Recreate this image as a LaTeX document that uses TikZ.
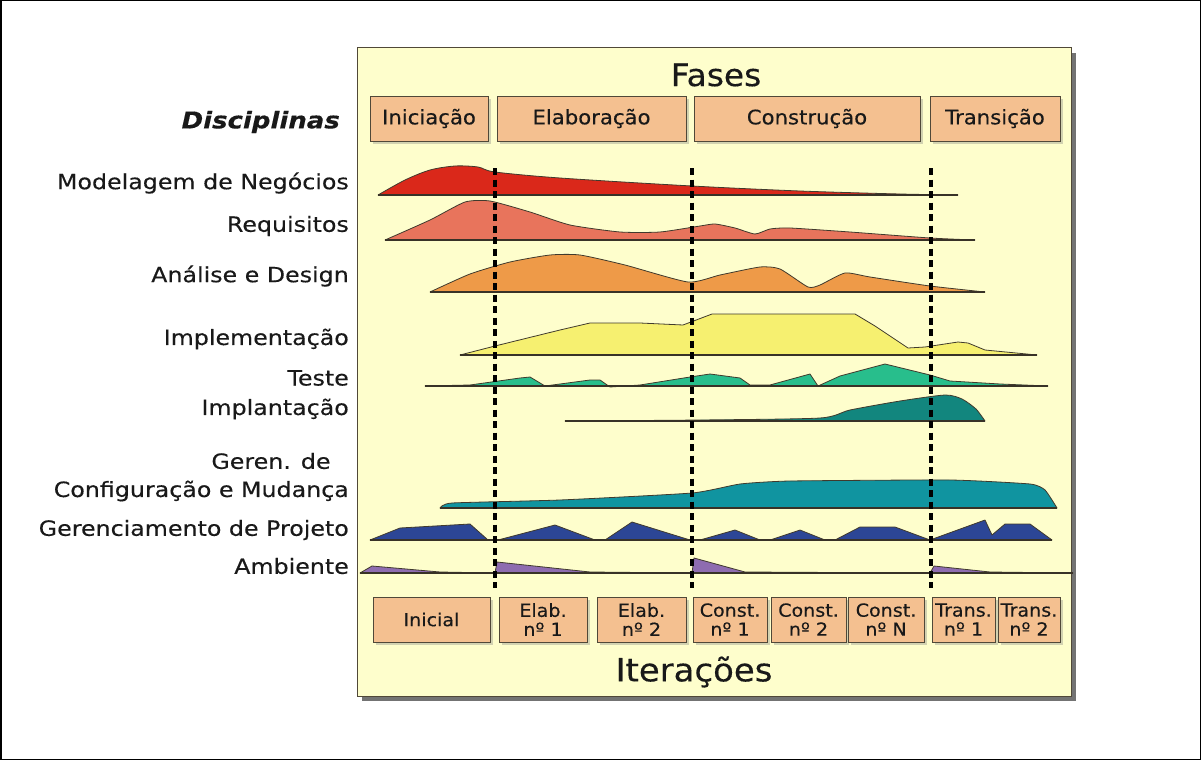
\documentclass[tikz,border=0pt]{standalone}
\usepackage{fontspec}
\setmainfont{DejaVu Sans}
\newfontfamily\labfont[FakeStretch=1.13,FakeBold=0.3]{DejaVu Sans}
\newfontfamily\boxfont[FakeStretch=1.06,FakeBold=0.3]{DejaVu Sans}
\usetikzlibrary{shadows}

\definecolor{panelfill}{RGB}{254,254,204}
\definecolor{boxfill}{RGB}{244,192,144}
\definecolor{edge}{RGB}{80,72,56}
\definecolor{inkc}{RGB}{25,25,25}
\definecolor{cBiz}{RGB}{218,40,26}
\definecolor{cReq}{RGB}{232,116,92}
\definecolor{cAna}{RGB}{238,154,72}
\definecolor{cImp}{RGB}{246,240,112}
\definecolor{cTst}{RGB}{40,190,140}
\definecolor{cDep}{RGB}{18,134,126}
\definecolor{cCfg}{RGB}{16,148,160}
\definecolor{cPrj}{RGB}{44,70,150}
\definecolor{cEnv}{RGB}{142,108,176}

\tikzset{
  boxshadow/.style={drop shadow={opacity=0.35,shadow xshift=3pt,shadow yshift=-3pt}},
  phasebox/.style={draw=edge, line width=1pt, fill=boxfill, boxshadow,
    minimum height=45pt, inner sep=0pt, font=\boxfont\fontsize{20}{22}\selectfont, text=inkc},
  iterbox/.style={draw=edge, line width=1pt, fill=boxfill, boxshadow,
    minimum height=45pt, inner sep=0pt, align=center,
    font=\boxfont\fontsize{18}{19}\selectfont, text=inkc},
  disc/.style={anchor=east, inner sep=0pt, text=inkc, font=\labfont\fontsize{21}{23}\selectfont},
  hump/.style={draw=edge!80!black, line width=0.8pt, line join=round},
  baseln/.style={draw=edge!70!black, line width=1.2pt},
  phaseline/.style={draw=black, line width=3.2pt, dash pattern=on 7pt off 4.5pt},
}

\begin{document}
\begin{tikzpicture}[x=1pt,y=-1pt]
% page and outer frame
\useasboundingbox (0,0) rectangle (1201,760);
\draw[black, line width=1.5pt] (0.75,0.75) rectangle (1200.25,759.25);

% chart panel
\fill[black!55] (362,53) rectangle (1076,701);
\draw[edge, line width=1pt, fill=panelfill] (357,48) rectangle (1071,696);

% titles
\node[font=\boxfont\fontsize{31}{33}\selectfont, text=inkc] (fases) at (716,75) {Fases};
\node[font=\boxfont\fontsize{32}{34}\selectfont, text=inkc] (iter) at (694,672) {Iterações};

% phase boxes
\node[phasebox, minimum width=118pt] (pIni) at (429,118.5) {Iniciação};
\node[phasebox, minimum width=189pt] (pEla) at (591.5,118.5) {Elaboração};
\node[phasebox, minimum width=226pt] (pCon) at (807,118.5) {Construção};
\node[phasebox, minimum width=130pt] (pTra) at (995,118.5) {Transição};

% iteration boxes
\node[iterbox, minimum width=117pt] (i1) at (431.5,619.5) {Inicial};
\node[iterbox, minimum width=88pt] (i2) at (543,619.5) {Elab.\\nº 1};
\node[iterbox, minimum width=89pt] (i3) at (641.5,619.5) {Elab.\\nº 2};
\node[iterbox, minimum width=74pt] (i4) at (730,619.5) {Const.\\nº 1};
\node[iterbox, minimum width=75pt] (i5) at (808.5,619.5) {Const.\\nº 2};
\node[iterbox, minimum width=76pt] (i6) at (886,619.5) {Const.\\nº N};
\node[iterbox, minimum width=63pt] (i7) at (963.5,619.5) {Trans.\\nº 1};
\node[iterbox, minimum width=62pt] (i8) at (1029,619.5) {Trans.\\nº 2};

% discipline labels
\node[anchor=east, inner sep=0pt, text=inkc, font=\labfont\fontsize{23}{25}\selectfont\bfseries\itshape] (dTitle) at (340,122) {Disciplinas};
\node[disc] (dBiz) at (349,183) {Modelagem de Negócios};
\node[disc] (dReq) at (349,226) {Requisitos};
\node[disc] (dAna) at (349,276) {Análise e Design};
\node[disc] (dImp) at (349,339) {Implementação};
\node[disc] (dTst) at (349,378) {Teste};
\node[disc] (dDep) at (349,409) {Implantação};
\node[disc, anchor=center] (dCfgA) at (271,461) {Geren. de};
\node[disc] (dCfgB) at (349,491) {Configuração e Mudança};
\node[disc] (dPrj) at (349,530) {Gerenciamento de Projeto};
\node[disc] (dEnv) at (349,566) {Ambiente};

% Business modeling
\path[hump, fill=cBiz] plot[smooth, tension=0.5] coordinates {(378,195) (405,180) (430,170) (455,166) (478,167) (495,172) (560,178) (692,186) (800,191) (900,194) (958,195)} -- cycle;
\draw[baseln] (378,195) -- (958,195);

% Requirements
\path[hump, fill=cReq] plot[smooth, tension=0.35] coordinates {(385,240) (430,220) (465,202) (490,201) (530,212) (570,225) (620,232) (660,232) (700,226) (715,224) (735,228) (755,234) (770,229) (790,228) (850,232) (930,238) (975,240)} -- cycle;
\draw[baseln] (385,240) -- (975,240);

% Analysis and design
\path[hump, fill=cAna] plot[smooth, tension=0.35] coordinates {(430,292) (470,274) (510,262) (550,255) (580,255) (625,265) (688,282) (720,275) (760,267) (780,269) (808,287) (820,285) (845,273) (870,277) (930,286) (985,292)} -- cycle;
\draw[baseln] (430,292) -- (985,292);

% Implementation
\path[hump, fill=cImp] (460,355) -- (495,346) -- (560,330) -- (590,323) -- (640,323) -- (683,325) -- (712,314) -- (855,314) -- (875,326) -- (908,348) -- (925,347) -- (958,342) -- (968,343) -- (985,350) -- (1037,355) -- cycle;
\draw[baseln] (460,355) -- (1037,355);

% Test
\path[hump, fill=cTst] (425,386) -- (470,385) -- (520,378) -- (530,377) -- (545,386) -- (590,380) -- (600,380) -- (610,387) -- (640,385) -- (690,377) -- (710,374) -- (740,378) -- (750,385) -- (770,385) -- (810,374) -- (818,386) -- (840,376) -- (885,364) -- (930,375) -- (950,381) -- (1000,384) -- (1048,386) -- cycle;
\draw[baseln] (425,386) -- (1048,386);

% Deployment
\path[hump, fill=cDep] plot[smooth, tension=0.4] coordinates {(565,421) (700,420) (820,418) (850,410) (900,401) (945,395) (962,399) (976,409) (985,421)} -- cycle;
\draw[baseln] (565,421) -- (985,421);

% Configuration and change management
\path[hump, fill=cCfg] plot[smooth, tension=0.3] coordinates {(440,508) (452,503) (560,500) (692,493) (740,484) (790,481) (950,480) (1030,484) (1045,490) (1057,508)} -- cycle;
\draw[baseln] (440,508) -- (1057,508);

% Project management
\path[hump, fill=cPrj] (370,540) -- (400,528) -- (470,524) -- (488,540) -- (498,540) -- (555,525) -- (595,540) -- (605,540) -- (632,522) -- (690,540) -- (700,540) -- (735,530) -- (760,540) -- (770,540) -- (800,530) -- (825,540) -- (835,540) -- (860,527) -- (895,527) -- (930,540) -- (985,520) -- (992,535) -- (1005,524) -- (1030,524) -- (1052,540) -- cycle;
\draw[baseln] (370,540) -- (1052,540);

% Environment
\path[hump, fill=cEnv] (360,573) -- (372,566) -- (440,572) -- (495,573) -- (497,562) -- (590,572) -- (692,573) -- (694,558) -- (745,572) -- (930,573) -- (934,566) -- (990,572) -- (1073,573) -- cycle;
\draw[baseln] (360,573) -- (1073,573);

% phase boundaries
\coordinate (b1t) at (495,168); \coordinate (b1b) at (495,588);
\coordinate (b2t) at (692,168); \coordinate (b2b) at (692,588);
\coordinate (b3t) at (931,168); \coordinate (b3b) at (931,588);
\draw[phaseline] (b1t) -- (b1b);
\draw[phaseline] (b2t) -- (b2b);
\draw[phaseline] (b3t) -- (b3b);
\end{tikzpicture}
\end{document}
